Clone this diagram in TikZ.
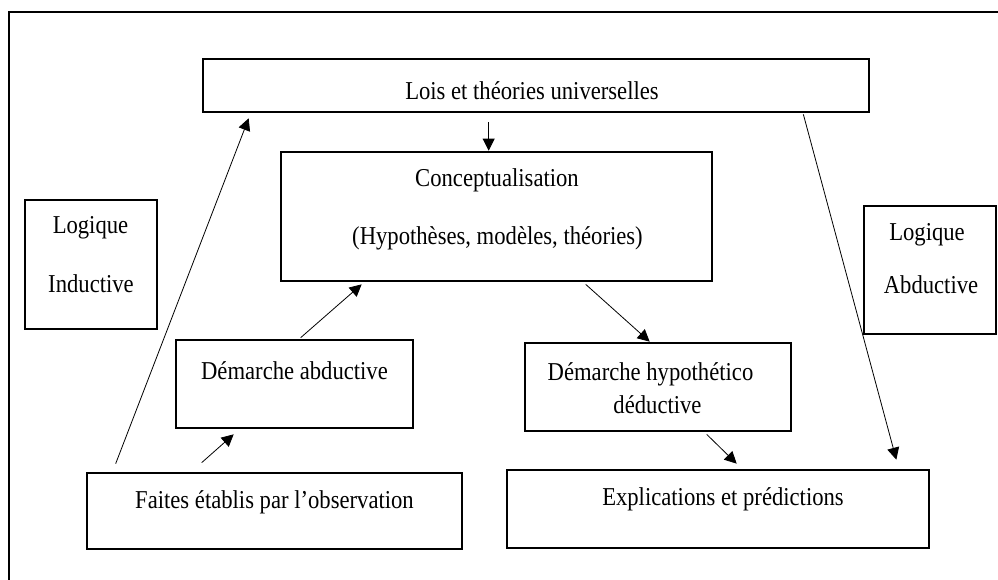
\documentclass[tikz,border=0pt]{standalone}
\usepackage{fontspec}
\setmainfont{Liberation Serif}[FakeStretch=0.88]
\usetikzlibrary{arrows.meta,calc}

\tikzset{every picture/.style={line width=0.75pt}}
\tikzset{
  boite/.style={draw, line width=2pt, inner sep=0pt},
  texte/.style={anchor=base, inner sep=0pt, font=\fontsize{19.3}{22}\selectfont},
  fleche/.style={line width=0.6pt, -{Triangle[length=9pt,width=9pt]}}
}

\begin{document}
\begin{tikzpicture}[x=0.75pt,y=0.75pt,yscale=-1,xscale=1]
	\useasboundingbox (0,0) rectangle (998,580);
	%Shape: Frame
	\draw[line width=1.7pt] (9,580) -- (9,12) -- (998,12);
	
	%Shape: Rectangle [lois]
	\node[boite, minimum width=499.5pt, minimum height=39.75pt] (lois) at (536,85.5) {};
	%Shape: Rectangle [concept]
	\node[boite, minimum width=323.25pt, minimum height=96.75pt] (concept) at (496.5,216.5) {};
	%Shape: Rectangle [inductive]
	\node[boite, minimum width=99pt, minimum height=96.75pt] (inductive) at (91,264.5) {};
	%Shape: Rectangle [abductive]
	\node[boite, minimum width=99pt, minimum height=96pt] (abductive) at (930,270) {};
	%Shape: Rectangle [dabd]
	\node[boite, minimum width=177.75pt, minimum height=66pt] (dabd) at (294.5,384) {};
	%Shape: Rectangle [dhyp]
	\node[boite, minimum width=199.5pt, minimum height=66pt] (dhyp) at (658,387) {};
	%Shape: Rectangle [faites]
	\node[boite, minimum width=281.25pt, minimum height=57pt] (faites) at (274.5,511) {};
	%Shape: Rectangle [expl]
	\node[boite, minimum width=316.5pt, minimum height=58.5pt] (expl) at (718,509) {};
	
	%Straight Lines
	\draw[fleche] ($(faites.north west)+(30,-8)$) -- ($(lois.south west)+(47,5)$);
	\draw[fleche] ($(faites.north west)+(116,-9)$) -- ($(dabd.south west)+(59,5)$);
	\draw[fleche] ($(dabd.north west)+(126,-1)$) -- ($(concept.south west)+(82,2)$);
	\draw[fleche] ($(lois.south west)+(287,9)$) -- ($(concept.north west)+(209,0)$);
	\draw[fleche] ($(concept.south west)+(306,2)$) -- ($(dhyp.north west)+(126,0)$);
	\draw[fleche] ($(dhyp.south west)+(183,2)$) -- ($(expl.north west)+(231,-5)$);
	\draw[fleche] ($(lois.south east)+(-67,1)$) -- ($(expl.north east)+(-34,-9)$);
	
	% Text Node
	\node[texte] (loisT) at (532,100) {Lois et théories universelles};
	% Text Node
	\node[texte] (conceptT) at (497,187) {Conceptualisation};
	% Text Node
	\node[texte] (conceptU) at (497.5,245) {(Hypothèses, modèles, théories)};
	% Text Node
	\node[texte] (inductiveT) at (90.5,234) {Logique};
	% Text Node
	\node[texte] (inductiveU) at (91,293) {Inductive};
	% Text Node
	\node[texte] (abductiveT) at (927,241) {Logique};
	% Text Node
	\node[texte] (abductiveU) at (931,294) {Abductive};
	% Text Node
	\node[texte] (dabdT) at (294.5,379) {Démarche abductive};
	% Text Node
	\node[texte] (dhypT) at (650.5,380) {Démarche hypothético};
	% Text Node
	\node[texte] (dhypU) at (657.5,413) {déductive};
	% Text Node
	\node[texte] (faitesT) at (274.5,508) {Faites établis par l’observation};
	% Text Node
	\node[texte] (explT) at (723,505) {Explications et prédictions};
\end{tikzpicture}
\end{document}
